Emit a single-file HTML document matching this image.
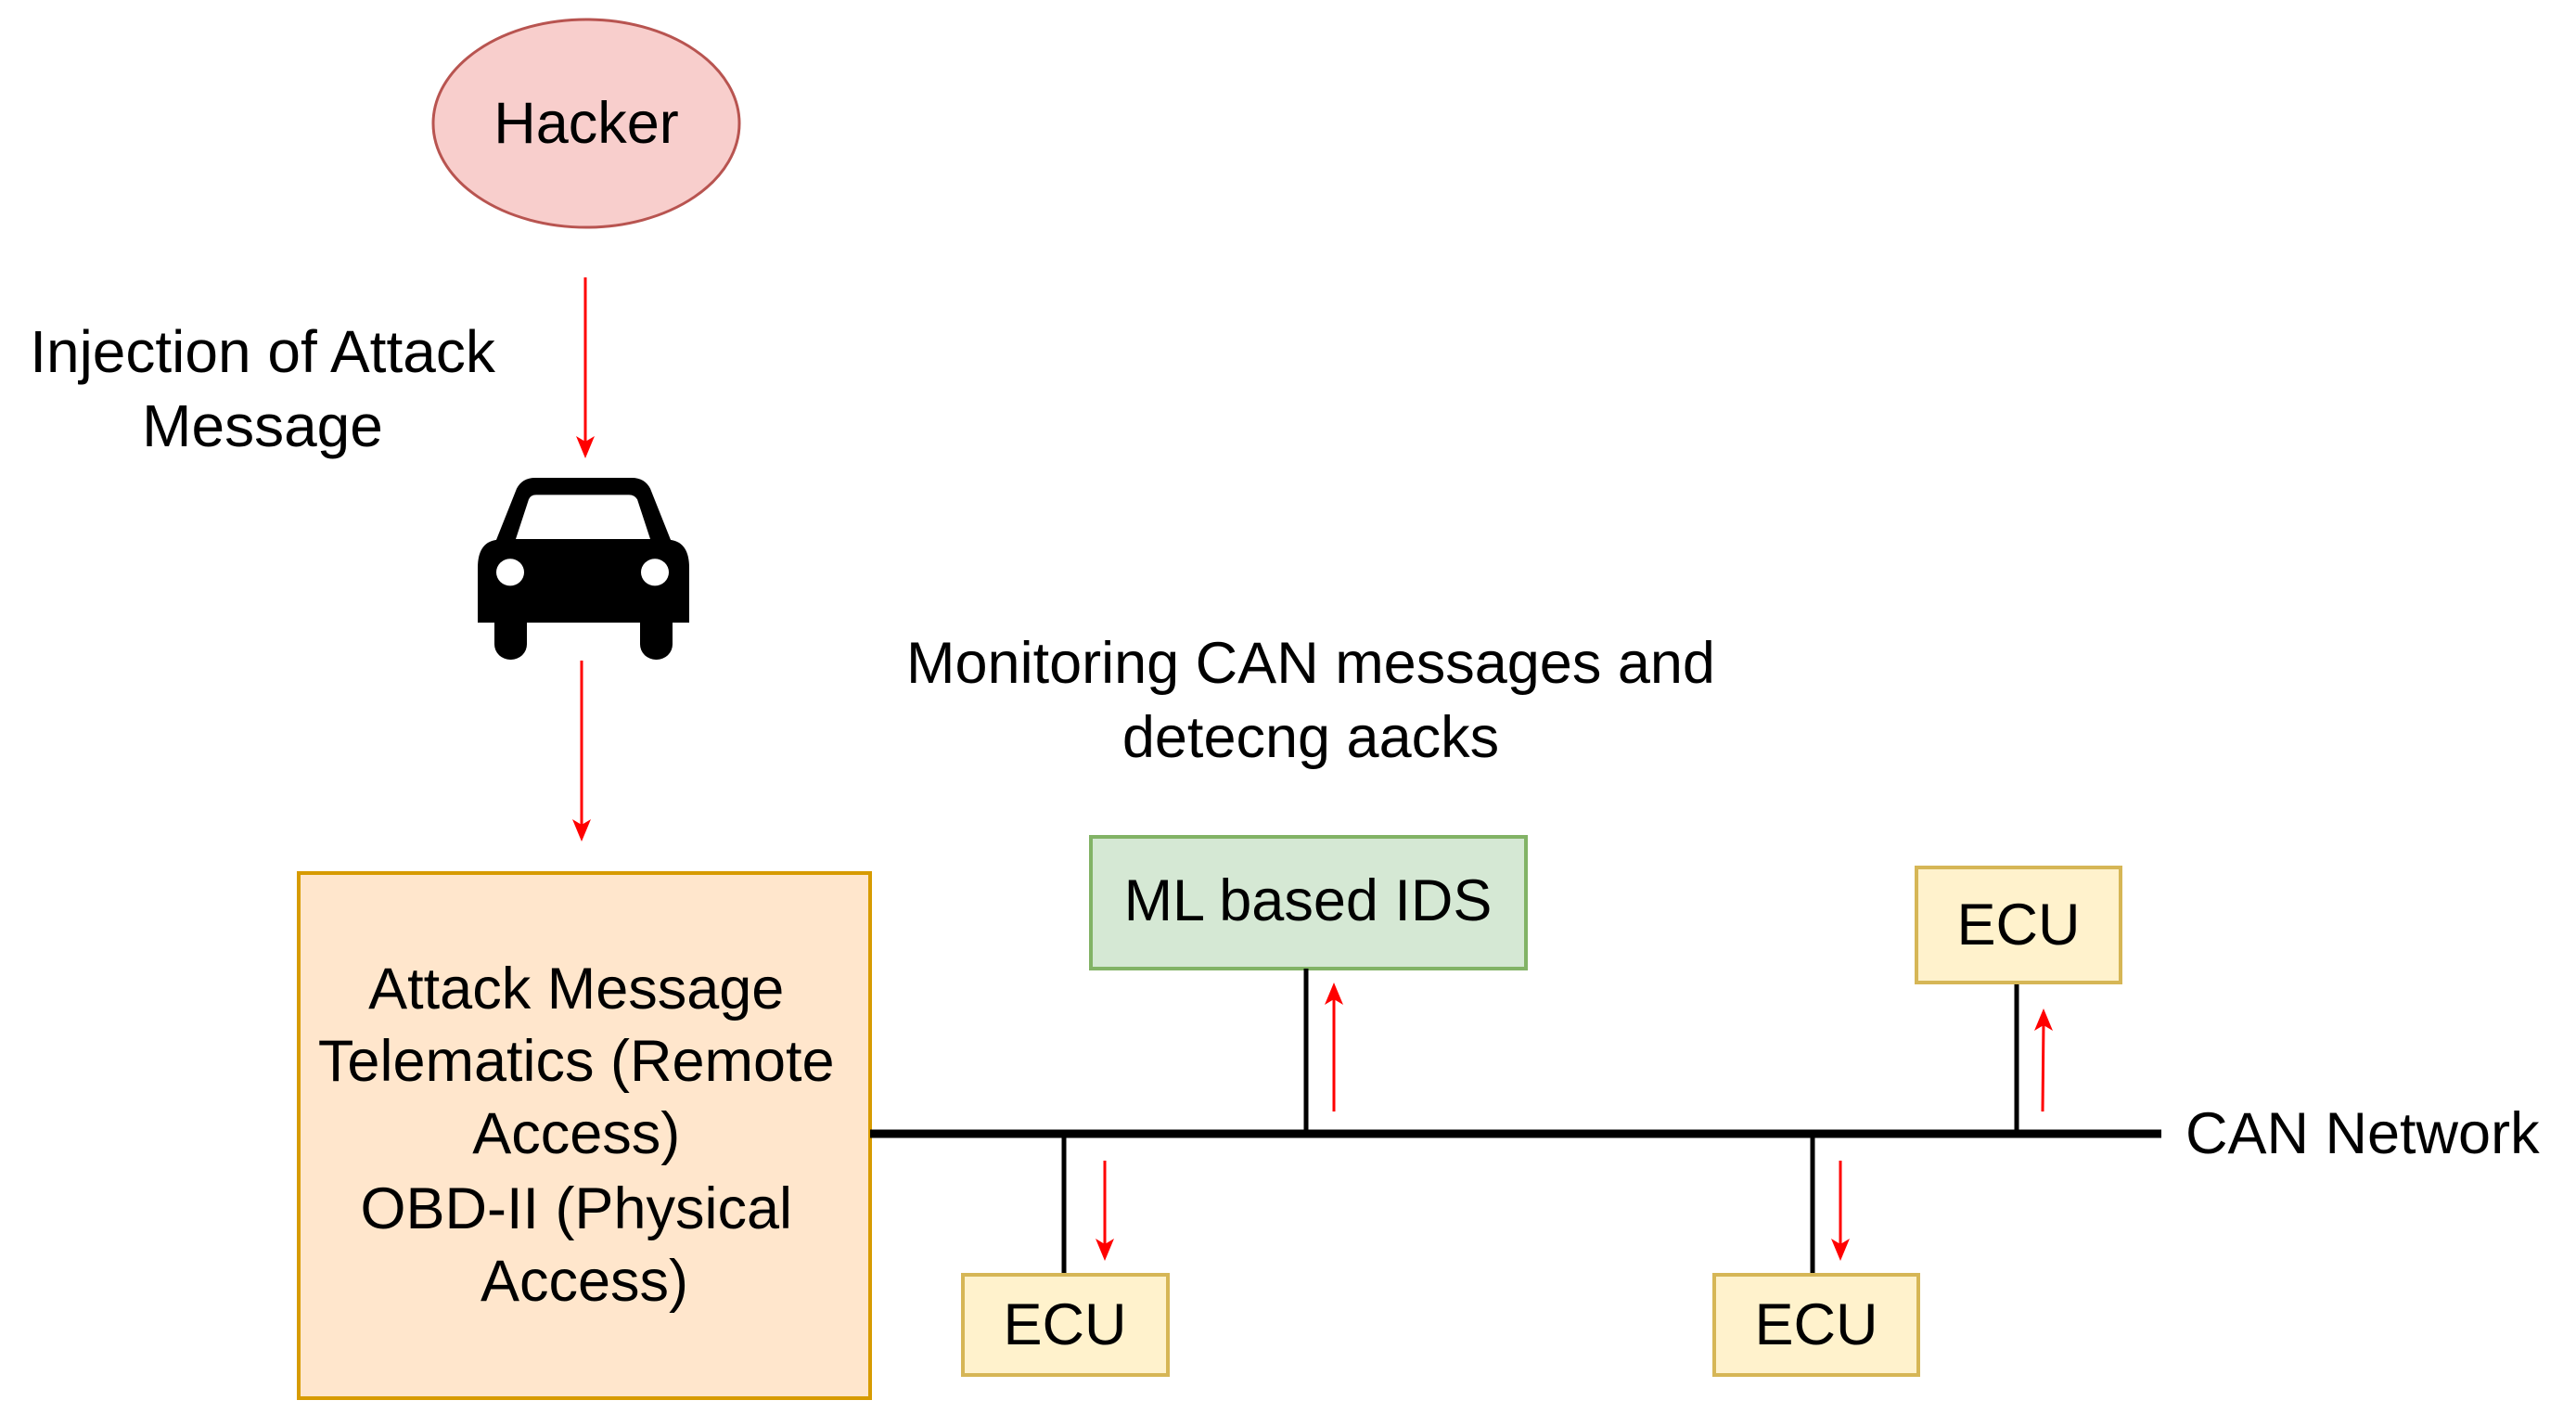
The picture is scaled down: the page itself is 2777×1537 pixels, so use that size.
<!DOCTYPE html>
<html><head><meta charset="utf-8"><style>
html,body{margin:0;padding:0;background:#fff;}
svg{display:block;}
text{font-family:"Liberation Sans",Arial,sans-serif;fill:#000;}
</style></head><body>
<svg width="2777" height="1537" viewBox="0 0 2777 1537" xmlns="http://www.w3.org/2000/svg">
<rect width="2777" height="1537" fill="#fff"/>
<g transform="translate(0,-4)">
<ellipse cx="632" cy="137" rx="165" ry="112" fill="#f8cecc" stroke="#b85450" stroke-width="3"/>
<text x="632" y="137" font-size="63" text-anchor="middle" dominant-baseline="central">Hacker</text>
<line x1="631" y1="303" x2="631" y2="485" stroke="#ff0000" stroke-width="3"/>
<polygon points="621,474 631,498 641,474 631,480" fill="#ff0000"/>
<text x="283" y="383" font-size="64" text-anchor="middle" dominant-baseline="central">Injection of Attack</text>
<text x="283" y="463" font-size="64" text-anchor="middle" dominant-baseline="central">Message</text>
<g transform="translate(515,519) scale(1,0.97)">
<path d="M20,69 L42,12 Q48,0 62,0 L166,0 Q180,0 186,12 L208,69 Q228,72 228,100 L228,161 L0,161 L0,100 Q0,72 20,69 Z" fill="#000"/>
<path d="M41,68 L55,24 Q57,19 63,19 L163,19 Q169,19 172,24 L186,68 Z" fill="#fff"/>
<rect x="18" y="140" width="35" height="62" rx="17" fill="#000"/>
<rect x="175" y="140" width="35" height="62" rx="17" fill="#000"/>
<circle cx="35" cy="105" r="15" fill="#fff"/>
<circle cx="191" cy="105" r="15" fill="#fff"/>
</g>
<line x1="627" y1="716" x2="627" y2="898" stroke="#ff0000" stroke-width="3"/>
<polygon points="617,887 627,911 637,887 627,893" fill="#ff0000"/>
<rect x="322" y="945" width="616" height="566" fill="#ffe6cc" stroke="#d79b00" stroke-width="4"/>
<text font-size="63" text-anchor="middle" dominant-baseline="central">
<tspan x="630" y="1070">Attack Message</tspan>
<tspan x="630" y="1148">Telematics (Remote</tspan>
<tspan x="630" y="1226">Access)</tspan>
<tspan x="630" y="1307">OBD-II (Physical</tspan>
<tspan x="630" y="1385">Access)</tspan>
</text>
<text x="1413" y="719" font-size="63" text-anchor="middle" dominant-baseline="central">Monitoring CAN messages and</text>
<text x="1413" y="799" font-size="63" text-anchor="middle" dominant-baseline="central">detecng aacks</text>
<rect x="1176" y="906" width="469" height="142" fill="#d5e8d4" stroke="#82b366" stroke-width="4"/>
<text x="1410" y="975" font-size="63" text-anchor="middle" dominant-baseline="central">ML based IDS</text>
<line x1="938" y1="1226" x2="2330" y2="1226" stroke="#000" stroke-width="9"/>
<text x="2356" y="1226" font-size="63" dominant-baseline="central">CAN Network</text>
<line x1="1408" y1="1048" x2="1408" y2="1226" stroke="#000" stroke-width="5"/>
<line x1="1438" y1="1202" x2="1438" y2="1076" stroke="#ff0000" stroke-width="3"/>
<polygon points="1428,1087 1438,1063 1448,1087 1438,1081" fill="#ff0000"/>
<line x1="1147" y1="1226" x2="1147" y2="1378" stroke="#000" stroke-width="5"/>
<rect x="1038" y="1378" width="221" height="108" fill="#fff2cc" stroke="#d6b656" stroke-width="4"/>
<text x="1148" y="1432" font-size="63" text-anchor="middle" dominant-baseline="central">ECU</text>
<line x1="1191" y1="1255" x2="1191" y2="1350" stroke="#ff0000" stroke-width="3"/>
<polygon points="1181,1339 1191,1363 1201,1339 1191,1345" fill="#ff0000"/>
<line x1="1954" y1="1226" x2="1954" y2="1378" stroke="#000" stroke-width="5"/>
<rect x="1848" y="1378" width="220" height="108" fill="#fff2cc" stroke="#d6b656" stroke-width="4"/>
<text x="1958" y="1432" font-size="63" text-anchor="middle" dominant-baseline="central">ECU</text>
<line x1="1984" y1="1255" x2="1984" y2="1350" stroke="#ff0000" stroke-width="3"/>
<polygon points="1974,1339 1984,1363 1994,1339 1984,1345" fill="#ff0000"/>
<line x1="2174" y1="1063" x2="2174" y2="1226" stroke="#000" stroke-width="5"/>
<rect x="2066" y="939" width="220" height="124" fill="#fff2cc" stroke="#d6b656" stroke-width="4"/>
<text x="2176" y="1001" font-size="63" text-anchor="middle" dominant-baseline="central">ECU</text>
<line x1="2202" y1="1202" x2="2203" y2="1104" stroke="#ff0000" stroke-width="3"/>
<polygon points="2193,1115 2203,1091 2213,1115 2203,1109" fill="#ff0000"/>
</g>
</svg>
</body></html>
